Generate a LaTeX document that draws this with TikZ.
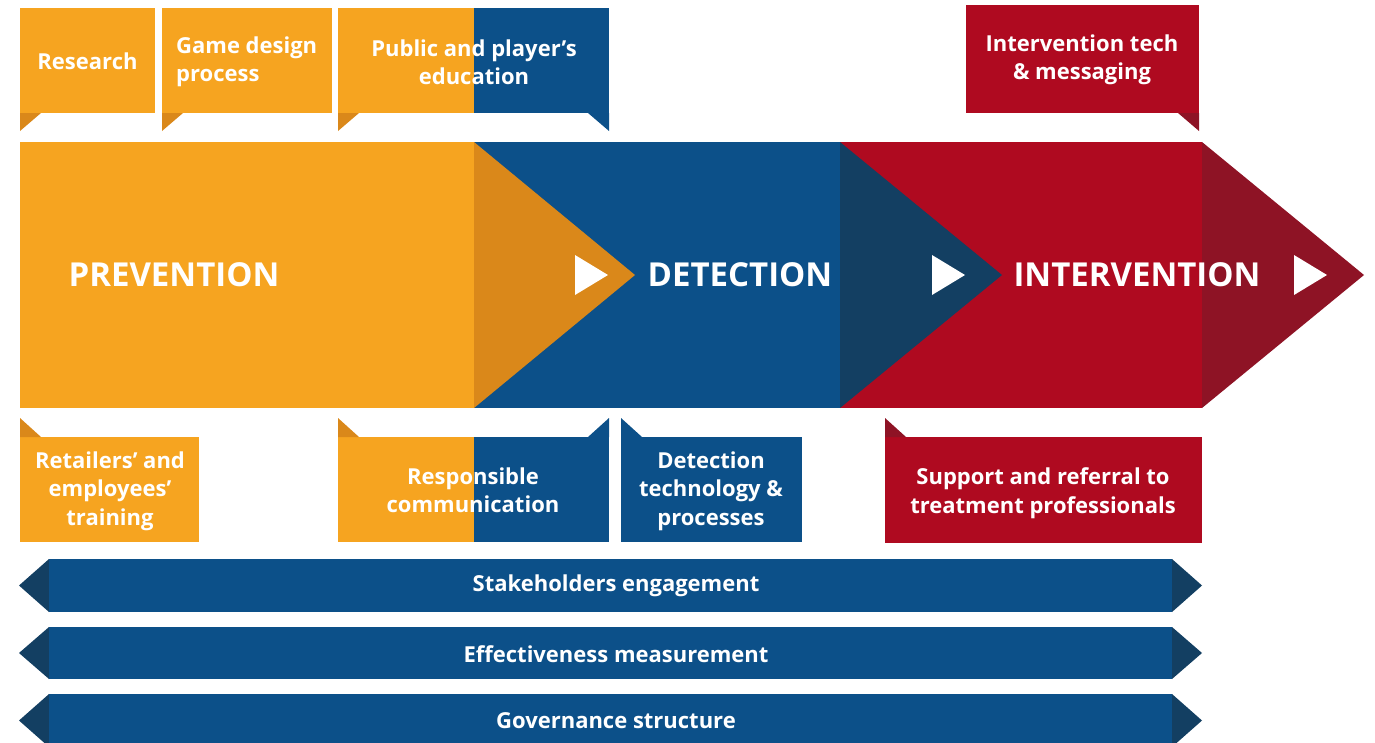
\documentclass[tikz,border=0pt]{standalone}
\usepackage{fontspec}
\setmainfont{Open Sans}
\definecolor{orng}{HTML}{F6A420}
\definecolor{orngdk}{HTML}{DA881A}
\definecolor{blu}{HTML}{0C5089}
\definecolor{bludk}{HTML}{133F62}
\definecolor{rd}{HTML}{AF0A20}
\definecolor{rddk}{HTML}{8E1325}
\tikzset{
	lbl/.style={text=white, align=center, inner sep=0pt, font=\bfseries\fontsize{22}{28.5}\selectfont},
	stage/.style={text=white, inner sep=0pt, font=\bfseries\fontsize{33}{38}\selectfont},
	play/.style={fill=white}
}
\begin{document}
\begin{tikzpicture}[x=1pt,y=-1pt]
		\useasboundingbox (0,0) rectangle (1375,742);
		
		\fill[orng] (20,8) rectangle (155,113);
		\fill[orngdk] (20,113) -- (41,113) -- (20,131) -- cycle;
		\node[lbl] (res) at (87.5,61) {Research};
		
		\fill[orng] (162,8) rectangle (332,113);
		\fill[orngdk] (162,113) -- (183,113) -- (162,131) -- cycle;
		\node[lbl,align=left,anchor=west] (game) at (176,62) {Game design\\process};
		
		\fill[orng] (338,8) rectangle (474,113);
		\fill[blu] (474,8) rectangle (609,113);
		\fill[orngdk] (338,113) -- (359,113) -- (338,131) -- cycle;
		\fill[blu] (588,113) -- (609,113) -- (609,131) -- cycle;
		\node[lbl] (edu) at (474,62) {Public and player’s\\education};
		
		\fill[rd] (966,5) rectangle (1199,113);
		\fill[rddk] (1178,113) -- (1199,113) -- (1199,131) -- cycle;
		\node[lbl] (itech) at (1082,60) {Intervention tech\\\& messaging};
		
		\fill[orng] (20,142) rectangle (474,408);
		\fill[blu] (474,142) rectangle (840,408);
		\fill[rd] (840,142) rectangle (1202,408);
		\fill[orngdk] (474,142) -- (635,275) -- (474,408) -- cycle;
		\fill[bludk] (840,142) -- (1002,275) -- (840,408) -- cycle;
		\fill[rddk] (1202,142) -- (1364,275) -- (1202,408) -- cycle;
		\fill[play] (575,255) -- (608,275) -- (575,295) -- cycle;
		\fill[play] (932,255) -- (965,275) -- (932,295) -- cycle;
		\fill[play] (1294,255) -- (1327,275) -- (1294,295) -- cycle;
		\node[stage] (prev) at (174,275) {PREVENTION};
		\node[stage] (det) at (740,275) {DETECTION};
		\node[stage] (inter) at (1137,275) {INTERVENTION};
		
		\fill[orng] (20,437) rectangle (199,542);
		\fill[orngdk] (20,418) -- (20,437) -- (41,437) -- cycle;
		\node[lbl] (retail) at (110,491) {Retailers’ and\\employees’\\training};
		
		\fill[orng] (338,437) rectangle (474,542);
		\fill[blu] (474,437) rectangle (609,542);
		\fill[orngdk] (338,418) -- (338,437) -- (359,437) -- cycle;
		\fill[blu] (609,418) -- (609,437) -- (588,437) -- cycle;
		\node[lbl] (comm) at (473,490) {Responsible\\communication};
		
		\fill[blu] (621,437) rectangle (802,542);
		\fill[blu] (621,418) -- (621,437) -- (642,437) -- cycle;
		\node[lbl] (dtech) at (711,491) {Detection\\technology \&\\processes};
		
		\fill[rd] (885,437) rectangle (1202,543);
		\fill[rddk] (885,418) -- (885,437) -- (906,437) -- cycle;
		\node[lbl] (supp) at (1043,493) {Support and referral to\\treatment professionals};
		
		\fill[bludk] (19,585.5) -- (49,559) -- (49,612) -- cycle;
		\fill[blu] (49,559) rectangle (1172,612);
		\fill[bludk] (1172,559) -- (1202,585.5) -- (1172,612) -- cycle;
		\node[lbl] (stake) at (616,586) {Stakeholders engagement};
		
		\fill[bludk] (19,653) -- (49,627) -- (49,679) -- cycle;
		\fill[blu] (49,627) rectangle (1172,679);
		\fill[bludk] (1172,627) -- (1202,653) -- (1172,679) -- cycle;
		\node[lbl] (eff) at (616,654) {Effectiveness measurement};
		
		\fill[bludk] (19,720.5) -- (49,694) -- (49,747) -- cycle;
		\fill[blu] (49,694) rectangle (1172,747);
		\fill[bludk] (1172,694) -- (1202,720.5) -- (1172,747) -- cycle;
		\node[lbl] (gov) at (616,721) {Governance structure};
\end{tikzpicture}
\end{document}
